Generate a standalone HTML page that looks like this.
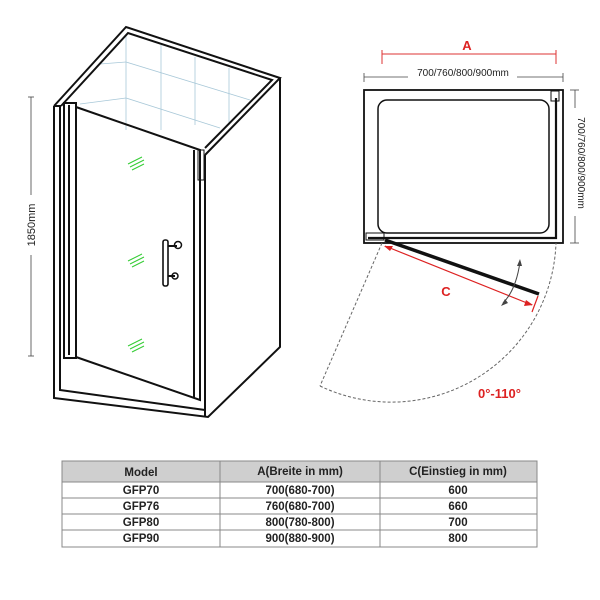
<!DOCTYPE html>
<html><head><style>
body{margin:0;background:#fff;}
svg{display:block;}
text{font-family:"Liberation Sans",Arial,sans-serif;}
</style></head><body>
<svg width="600" height="600" viewBox="0 0 600 600" xmlns="http://www.w3.org/2000/svg">
<g stroke="#a8c8d8" stroke-width="0.8" fill="none">
<line x1="126" y1="35" x2="126" y2="130"/><line x1="161" y1="45" x2="161" y2="130"/><line x1="195" y1="57" x2="195" y2="125"/><line x1="229" y1="68" x2="229" y2="125"/>
<line x1="100" y1="64" x2="126" y2="62"/><line x1="126" y1="62" x2="250" y2="100"/>
<line x1="80" y1="104" x2="126" y2="98"/><line x1="126" y1="98" x2="220" y2="128"/>
<line x1="126" y1="35" x2="80" y2="85"/>
</g>
<g stroke="#111" stroke-width="2" fill="none">
<path d="M54,106 L126,27 L280,78 L205,155"/>
<path d="M61,106 L128,33 L272,80 L205,148"/>
<path d="M54,106 L54,398 L208,417 L280,347 L280,78"/>
<line x1="205" y1="155" x2="205" y2="417"/>
<line x1="54" y1="106" x2="61" y2="106"/>
<path d="M60,106 L60,390 L205,410"/>
<rect x="64" y="103" width="12" height="255"/>
<line x1="69" y1="105" x2="69" y2="355"/>
<path d="M76,107 L200,150 L200,400 L76,357"/>
<line x1="194" y1="150" x2="194" y2="398"/>
<rect x="198" y="150" width="6" height="30" stroke-width="1"/>
<rect x="163" y="240" width="5" height="46" rx="2" stroke-width="1.6"/>
<line x1="168" y1="246" x2="177" y2="246"/><circle cx="178" cy="245" r="3.5" stroke-width="1.5"/>
<line x1="168" y1="276" x2="175" y2="276"/><circle cx="175" cy="276" r="3" stroke-width="1.5"/>
</g>
<g stroke="#3c3" stroke-width="1" fill="none">
<path d="M128,164 l14,-7 M130,167 l14,-7 M132,170 l12,-6"/>
<path d="M128,261 l14,-7 M130,264 l14,-7 M132,267 l12,-6"/>
<path d="M128,346 l14,-7 M130,349 l14,-7 M132,352 l12,-6"/>
</g>
<g stroke="#444" stroke-width="0.8">
<line x1="31" y1="97" x2="31" y2="195"/><line x1="31" y1="255" x2="31" y2="356"/>
<line x1="28" y1="97" x2="34" y2="97"/><line x1="28" y1="356" x2="34" y2="356"/>
</g>
<text x="0" y="0" font-size="11" fill="#222" transform="translate(35,225) rotate(-90)" text-anchor="middle">1850mm</text>
<g stroke="#d33" stroke-width="1" fill="none">
<line x1="382" y1="54" x2="556" y2="54"/><line x1="382" y1="50" x2="382" y2="64"/><line x1="556" y1="50" x2="556" y2="64"/>
</g>
<text x="467" y="50" font-size="13" font-weight="bold" fill="#d22" text-anchor="middle">A</text>
<g stroke="#444" stroke-width="0.8" fill="none">
<line x1="364" y1="77" x2="408" y2="77"/><line x1="517" y1="77" x2="563" y2="77"/>
<line x1="364" y1="73" x2="364" y2="82"/><line x1="563" y1="73" x2="563" y2="82"/>
<line x1="575" y1="90" x2="575" y2="108"/><line x1="575" y1="216" x2="575" y2="243"/>
<line x1="570" y1="90" x2="579" y2="90"/><line x1="570" y1="243" x2="579" y2="243"/>
</g>
<text x="463" y="76" font-size="10" fill="#222" text-anchor="middle">700/760/800/900mm</text>
<text x="0" y="0" font-size="10" fill="#222" transform="translate(578,163) rotate(90)" text-anchor="middle">700/760/800/900mm</text>
<g stroke="#111" fill="none">
<rect x="364" y="90" width="199" height="153" stroke-width="1.8"/>
<rect x="378" y="100" width="171" height="133" rx="9" stroke-width="1.5"/>
<path d="M368,238 L556,238 L556,98" stroke-width="2.2"/>
<rect x="551" y="91" width="8" height="10" stroke-width="1"/>
<rect x="366" y="233" width="18" height="7" stroke-width="1"/>
<line x1="385" y1="240" x2="539" y2="294" stroke-width="3.5"/>
</g>
<g stroke="#666" stroke-width="1" stroke-dasharray="3,2" fill="none">
<line x1="382" y1="243" x2="320" y2="386"/>
<path d="M320,386 A165,165 0 0 0 556,243"/>
</g>
<g stroke="#d22" stroke-width="1.2" fill="#d22">
<line x1="385" y1="246" x2="532" y2="305"/>
<path d="M384,246 l9,0 l-3,5 z" stroke="none"/>
<path d="M533,305 l-9,1 l2,-6 z" stroke="none"/>
<line x1="538" y1="296" x2="532" y2="312"/>
</g>
<text x="446" y="296" font-size="13" font-weight="bold" fill="#d22" text-anchor="middle">C</text>
<g stroke="#444" stroke-width="1" fill="none">
<path d="M520,262 Q516,290 503,303"/>
</g>
<path d="M520,259 l-3,7 l5,0 z M501,306 l7,-3 l-3,-4 z" fill="#444"/>
<text x="478" y="398" font-size="13" font-weight="bold" fill="#d22">0°-110°</text>
<rect x="62" y="461" width="475" height="21" fill="#cfcfcf"/>
<g stroke="#888" stroke-width="1" fill="none">
<rect x="62" y="461" width="475" height="86"/>
<line x1="62" y1="482" x2="537" y2="482"/><line x1="62" y1="498" x2="537" y2="498"/>
<line x1="62" y1="514" x2="537" y2="514"/><line x1="62" y1="530" x2="537" y2="530"/>
<line x1="220" y1="461" x2="220" y2="547"/><line x1="380" y1="461" x2="380" y2="547"/>
</g>
<g font-size="11.5" font-weight="bold" fill="#222" text-anchor="middle">
<text x="141" y="476">Model</text><text x="300" y="475">A(Breite in mm)</text><text x="458" y="475">C(Einstieg in mm)</text>
<text x="141" y="494">GFP70</text><text x="300" y="494">700(680-700)</text><text x="458" y="494">600</text>
<text x="141" y="510">GFP76</text><text x="300" y="510">760(680-700)</text><text x="458" y="510">660</text>
<text x="141" y="526">GFP80</text><text x="300" y="526">800(780-800)</text><text x="458" y="526">700</text>
<text x="141" y="542">GFP90</text><text x="300" y="542">900(880-900)</text><text x="458" y="542">800</text>
</g>
</svg>
</body></html>
